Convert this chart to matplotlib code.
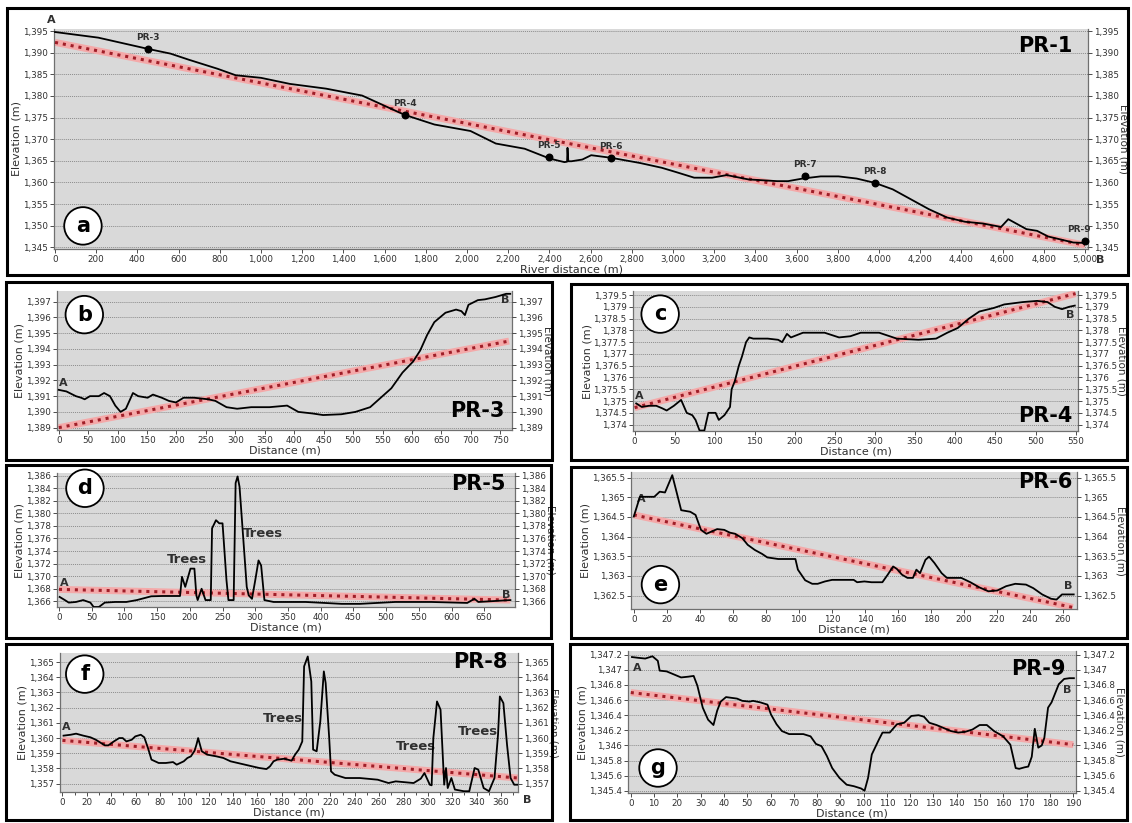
import matplotlib.pyplot as plt
from matplotlib.patches import Rectangle
from matplotlib.ticker import FuncFormatter, MultipleLocator

W, H = 1132, 823

# ---- panel a : PR-1 river long profile ----
pr1_x = [0, 210, 451, 561, 649, 789, 877, 1000, 1140, 1316, 1491, 1666, 1700, 1842,
         2017, 2140, 2280, 2403, 2473, 2486, 2488, 2492, 2507, 2560, 2603, 2700, 2840,
         2945, 3015, 3103, 3190, 3261, 3366, 3506, 3559, 3629, 3717, 3804, 3892, 3980,
         4067, 4155, 4243, 4330, 4418, 4505, 4593, 4628, 4716, 4768, 4821, 4944, 5000]
pr1_y = [1394.8, 1393.5, 1390.9, 1389.8, 1388.4, 1386.3, 1384.8, 1384.2, 1382.8, 1381.7,
         1380.1, 1376.3, 1375.6, 1373.4, 1371.9, 1369.0, 1367.8, 1365.5, 1364.7, 1364.8,
         1368.0, 1364.9, 1364.9, 1365.3, 1366.3, 1365.7, 1364.5, 1363.4, 1362.4, 1361.1,
         1361.1, 1361.7, 1360.7, 1360.3, 1360.3, 1360.9, 1361.4, 1361.4, 1360.9, 1359.9,
         1358.4, 1356.1, 1353.8, 1351.9, 1350.9, 1350.5, 1349.7, 1351.5, 1349.2, 1348.8,
         1347.5, 1346.1, 1346.0]
pr1_trend_x = [0, 5000]
pr1_trend_y = [1392.4, 1345.5]
pr_sites = ["PR-3", "PR-4", "PR-5", "PR-6", "PR-7", "PR-8", "PR-9"]
pr_sites_x = [450, 1700, 2400, 2700, 3640, 3980, 5000]
pr_sites_y = [1390.9, 1375.6, 1365.9, 1365.7, 1361.5, 1359.9, 1346.4]

# ---- panel b : PR-3 ----
pr3_x = [0, 13, 29, 38, 44, 53, 68, 77, 87, 96, 105, 114, 126, 135, 151, 160, 175, 187,
         199, 212, 230, 254, 266, 285, 303, 327, 358, 388, 407, 431, 449, 480, 504, 529,
         547, 565, 584, 602, 614, 626, 638, 657, 675, 684, 690, 696, 712, 724, 742, 760, 767]
pr3_y = [1391.4, 1391.3, 1391.0, 1390.9, 1390.8, 1391.0, 1391.0, 1391.2, 1391.0, 1390.4,
         1390.0, 1390.2, 1391.2, 1391.0, 1390.9, 1391.1, 1390.9, 1390.7, 1390.6, 1390.9,
         1390.9, 1390.8, 1390.7, 1390.3, 1390.2, 1390.3, 1390.3, 1390.4, 1390.0, 1389.9,
         1389.8, 1389.85, 1390.0, 1390.3, 1390.9, 1391.5, 1392.5, 1393.2, 1393.9, 1394.9,
         1395.7, 1396.3, 1396.5, 1396.4, 1396.15, 1396.8, 1397.1, 1397.15, 1397.3, 1397.5, 1397.5]
pr3_trend_x = [0, 765]
pr3_trend_y = [1389.0, 1394.5]

# ---- panel c : PR-4 ----
pr4_x = [2, 9, 18, 27, 34, 40, 49, 58, 65, 72, 76, 81, 87, 92, 101, 105, 112, 119, 121,
         125, 130, 134, 139, 143, 148, 166, 179, 184, 190, 195, 210, 237, 255, 269, 282,
         305, 327, 354, 376, 390, 403, 417, 430, 448, 461, 484, 502, 515, 524, 533, 542, 549]
pr4_y = [1374.9, 1374.75, 1374.8, 1374.8, 1374.7, 1374.6, 1374.8, 1375.05, 1374.5, 1374.4,
         1374.2, 1373.75, 1373.75, 1374.5, 1374.5, 1374.2, 1374.4, 1374.75, 1375.5, 1375.85,
         1376.5, 1376.9, 1377.5, 1377.7, 1377.65, 1377.65, 1377.6, 1377.5, 1377.85, 1377.7,
         1377.9, 1377.9, 1377.7, 1377.75, 1377.9, 1377.9, 1377.65, 1377.6, 1377.65, 1377.9,
         1378.1, 1378.5, 1378.8, 1378.95, 1379.1, 1379.2, 1379.25, 1379.2, 1379.0, 1378.9,
         1379.0, 1379.05]
pr4_trend_x = [0, 550]
pr4_trend_y = [1374.72, 1379.56]

# ---- panel d : PR-5 ----
pr5_x = [1, 9, 15, 26, 37, 48, 53, 61, 70, 86, 103, 119, 130, 141, 158, 185, 188, 193,
         201, 207, 210, 212, 218, 224, 232, 234, 240, 245, 250, 256, 259, 267, 270, 273,
         276, 287, 290, 295, 300, 305, 309, 314, 328, 377, 405, 432, 460, 487, 514, 569,
         624, 635, 641, 690]
pr5_y = [1366.7, 1366.2, 1365.8, 1365.9, 1366.2, 1365.8, 1365.1, 1365.1, 1365.8, 1365.9,
         1365.9, 1366.2, 1366.5, 1366.8, 1366.85, 1366.85, 1369.9, 1368.3, 1371.2, 1371.2,
         1366.95, 1366.2, 1368.0, 1366.2, 1366.2, 1377.6, 1378.9, 1378.4, 1378.4, 1369.4,
         1366.2, 1366.2, 1384.8, 1385.85, 1384.2, 1368.3, 1366.95, 1366.4, 1369.35, 1372.5,
         1371.7, 1366.2, 1365.9, 1365.9, 1365.75, 1365.6, 1365.6, 1365.75, 1365.9, 1365.9,
         1365.75, 1366.4, 1365.9, 1366.2]
pr5_trend_x = [0, 690]
pr5_trend_y = [1367.9, 1366.2]

# ---- panel e : PR-6 ----
pr6_x = [0, 3.7, 12.4, 15.7, 18.9, 23.3, 28.7, 34.2, 37.4, 40.7, 44.0, 47.2, 50.5, 54.8,
         58.1, 61.4, 65.7, 69.0, 73.3, 77.7, 80.9, 84.2, 87.5, 97.9, 99.4, 103.8, 108.1,
         111.4, 115.8, 120.1, 124.5, 133.2, 135.3, 139.7, 144.0, 150.6, 153.8, 157.1, 159.3,
         162.5, 165.8, 169.1, 171.2, 173.4, 176.7, 178.9, 182.1, 186.5, 189.7, 198.4, 203.9,
         209.3, 214.8, 220.2, 225.6, 231.1, 237.6, 242.0, 247.4, 252.8, 256.1, 259.4, 266.5]
pr6_y = [1364.51, 1365.01, 1365.01, 1365.14, 1365.12, 1365.56, 1364.67, 1364.63, 1364.55,
         1364.17, 1364.07, 1364.13, 1364.19, 1364.17, 1364.10, 1364.07, 1363.96, 1363.79,
         1363.66, 1363.56, 1363.47, 1363.45, 1363.43, 1363.43, 1363.16, 1362.89, 1362.80,
         1362.80, 1362.86, 1362.90, 1362.90, 1362.90, 1362.84, 1362.86, 1362.84, 1362.84,
         1363.03, 1363.24, 1363.18, 1363.03, 1362.95, 1362.95, 1363.16, 1363.07, 1363.41,
         1363.49, 1363.33, 1363.07, 1362.95, 1362.95, 1362.84, 1362.71, 1362.61, 1362.63,
         1362.74, 1362.80, 1362.78, 1362.69, 1362.53, 1362.42, 1362.40, 1362.53, 1362.53]
pr6_trend_x = [0, 266]
pr6_trend_y = [1364.55, 1362.2]

# ---- panel f : PR-8 ----
pr8_x = [0.9, 6.8, 11.2, 17.1, 23.0, 27.4, 31.8, 34.8, 37.7, 42.2, 46.6, 49.5, 52.5, 56.9,
         59.8, 64.3, 67.2, 70.2, 73.1, 79.0, 84.9, 90.8, 93.8, 96.7, 99.6, 102.6, 105.5,
         108.5, 110.0, 111.4, 114.4, 118.8, 126.2, 132.1, 138.0, 143.9, 149.8, 155.7, 161.6,
         167.5, 170.4, 173.3, 176.3, 182.2, 188.1, 191.0, 194.0, 196.9, 198.4, 201.4, 204.3,
         205.8, 208.7, 211.7, 214.6, 216.1, 219.0, 220.5, 223.5, 232.3, 244.1, 258.8, 267.7,
         273.6, 288.3, 294.2, 297.2, 301.6, 303.1, 304.5, 307.5, 310.4, 313.4, 314.9, 316.3,
         319.3, 322.2, 329.6, 334.0, 338.4, 341.4, 345.8, 350.2, 354.7, 357.6, 359.1, 362.0,
         365.0, 367.9, 370.9, 373.5]
pr8_y = [1360.16, 1360.22, 1360.29, 1360.16, 1360.05, 1359.89, 1359.67, 1359.52, 1359.52,
         1359.78, 1360.0, 1360.0, 1359.78, 1359.89, 1360.11, 1360.22, 1360.05, 1359.35,
         1358.58, 1358.36, 1358.36, 1358.42, 1358.25, 1358.36, 1358.47, 1358.69, 1358.80,
         1359.17, 1359.56, 1360.0, 1359.13, 1358.91, 1358.80, 1358.69, 1358.47, 1358.36,
         1358.25, 1358.14, 1358.03, 1357.96, 1358.14, 1358.47, 1358.58, 1358.64, 1358.51,
         1358.91, 1359.24, 1359.78, 1364.72, 1365.37, 1363.73, 1359.24, 1359.13, 1361.10,
         1364.39, 1363.62, 1360.0, 1357.81, 1357.59, 1357.37, 1357.37, 1357.26, 1357.04,
         1357.15, 1357.04, 1357.33, 1357.70, 1356.93, 1356.89, 1360.0, 1362.41, 1361.87,
         1356.93, 1358.03, 1356.71, 1357.37, 1356.61, 1356.50, 1356.50, 1358.03, 1357.92,
         1356.71, 1356.50, 1357.37, 1360.22, 1362.74, 1362.30, 1359.56, 1357.37, 1356.93, 1356.93]
pr8_trend_x = [0, 374]
pr8_trend_y = [1359.85, 1357.37]

# ---- panel g : PR-9 ----
pr9_x = [0.5, 3.1, 6.2, 9.3, 11.6, 12.4, 15.4, 18.5, 21.6, 24.7, 27.0, 28.6, 30.9, 33.2,
         35.5, 37.1, 38.6, 40.9, 43.2, 45.6, 47.9, 51.0, 52.5, 55.6, 58.7, 60.2, 62.6, 64.9,
         68.0, 71.1, 74.1, 77.2, 79.5, 81.9, 84.2, 86.5, 89.6, 92.7, 95.8, 98.9, 100.4, 101.9,
         103.5, 106.6, 108.1, 111.2, 114.3, 117.4, 120.5, 123.6, 125.9, 128.2, 131.3, 134.4,
         137.5, 140.6, 143.6, 146.7, 149.8, 152.9, 156.0, 159.9, 163.0, 165.3, 166.8, 169.1,
         170.7, 172.2, 173.5, 175.0, 176.5, 177.6, 179.2, 180.7, 183.8, 186.1, 188.4, 190.3]
pr9_y = [1347.17, 1347.16, 1347.15, 1347.18, 1347.12, 1346.99, 1346.98, 1346.94, 1346.90,
         1346.91, 1346.92, 1346.79, 1346.50, 1346.34, 1346.27, 1346.46, 1346.58, 1346.64,
         1346.63, 1346.62, 1346.59, 1346.58, 1346.59, 1346.57, 1346.54, 1346.41, 1346.28,
         1346.19, 1346.15, 1346.15, 1346.15, 1346.12, 1346.02, 1345.99, 1345.86, 1345.70,
         1345.57, 1345.48, 1345.46, 1345.43, 1345.40, 1345.57, 1345.88, 1346.08, 1346.17,
         1346.17, 1346.28, 1346.30, 1346.39, 1346.40, 1346.38, 1346.30, 1346.27, 1346.23,
         1346.19, 1346.17, 1346.18, 1346.21, 1346.27, 1346.27, 1346.19, 1346.12, 1346.01,
         1345.70, 1345.69, 1345.71, 1345.72, 1345.85, 1346.22, 1345.97, 1346.00, 1346.10,
         1346.50, 1346.57, 1346.81, 1346.88, 1346.89, 1346.89]
pr9_trend_x = [0, 190]
pr9_trend_y = [1346.70, 1346.01]

BG = "#d9d9d9"
TXT = "#303030"


def elev_fmt(v, pos):
    s = f"{v:,.1f}"
    if s.endswith(".0"):
        s = s[:-2]
    return s


def px_axes(fig, l, t, r, b):
    return fig.add_axes([l / W, 1 - b / H, (r - l) / W, (b - t) / H])


def frame(fig, l, t, r, b):
    fig.add_artist(Rectangle((l / W, 1 - b / H), (r - l) / W, (b - t) / H,
                             transform=fig.transFigure, fill=False, ec="black", lw=2.2))


def panel(fig, box, xlim, ylim, xstep, ystep, x, y, tx, ty, letter, letter_pos,
          name, name_pos, name_va="center", xlabel="Distance (m)", xfmt=None):
    ax = px_axes(fig, *box)
    ax.set_facecolor(BG)
    ax.plot(tx, ty, color="#f4a9a9", lw=5, solid_capstyle="butt", zorder=2)
    ax.plot(tx, ty, color="#a01e28", lw=2.2, ls=(0, (1, 1.6)), zorder=3)
    ax.plot(x, y, color="black", lw=1.3, zorder=4)
    ax.set_xlim(*xlim)
    ax.set_ylim(*ylim)
    ax.xaxis.set_major_locator(MultipleLocator(xstep))
    ax.yaxis.set_major_locator(MultipleLocator(ystep))
    ax.yaxis.set_major_formatter(FuncFormatter(elev_fmt))
    if xfmt:
        ax.xaxis.set_major_formatter(FuncFormatter(xfmt))
    ax.grid(axis="y", color="#8c8c8c", ls=(0, (1, 1)), lw=0.7)
    ax.set_axisbelow(True)
    for s in ["left", "right", "bottom"]:
        ax.spines[s].set_color("#707070")
        ax.spines[s].set_linewidth(0.9)
    ax.spines["top"].set_visible(False)
    ax.tick_params(labelsize=6.3, colors=TXT, length=3, width=0.6, pad=1.5)
    ax.set_xlabel(xlabel, fontsize=8, color=TXT, labelpad=0)
    ax.set_ylabel("Elevation (m)", fontsize=8, color=TXT, labelpad=1)

    ax2 = ax.twinx()
    ax2.set_ylim(*ylim)
    ax2.yaxis.set_major_locator(MultipleLocator(ystep))
    ax2.yaxis.set_major_formatter(FuncFormatter(elev_fmt))
    ax2.tick_params(labelsize=6.3, colors=TXT, length=3, width=0.6, pad=1)
    for s in ax2.spines.values():
        s.set_visible(False)
    ax2.set_ylabel("Elevation (m)", fontsize=7.5, color=TXT, rotation=270, labelpad=7)

    ax.text(letter_pos[0], letter_pos[1], letter, transform=ax.transAxes, fontsize=15,
            fontweight="bold", ha="center", va="center", zorder=6,
            bbox=dict(boxstyle="circle,pad=0.42", fc="white", ec="black", lw=1.3))
    ax.text(name_pos[0], name_pos[1], name, transform=ax.transAxes, fontsize=15,
            fontweight="bold", ha="right", va=name_va, zorder=6)
    return ax


fig = plt.figure(figsize=(W / 100, H / 100), dpi=100)
fig.patch.set_facecolor("white")

frames = [(7, 8, 1128, 275), (6, 282, 552, 460), (571, 284, 1127, 460),
          (6, 465, 551, 638), (571, 467, 1127, 638), (6, 644, 552, 820), (570, 644, 1127, 820)]
for f in frames:
    frame(fig, *f)

# panel a
ax = panel(fig, (54, 29, 1088, 249), (-5, 5015), (1344.6, 1395.5), 200, 5, pr1_x, pr1_y,
           pr1_trend_x, pr1_trend_y, "a", (0.028, 0.105), "PR-1", (0.985, 0.925),
           xlabel="River distance (m)", xfmt=lambda v, p: f"{v:,.0f}")
ax.scatter(pr_sites_x, pr_sites_y, s=22, color="black", zorder=5, clip_on=False)
for n, sx, sy in zip(pr_sites, pr_sites_x, pr_sites_y):
    ax.annotate(n, (sx, sy), xytext=(-4 if n == "PR-9" else 0, 5), textcoords="offset points",
                ha="center", va="bottom", fontsize=6.5, color=TXT, fontweight="bold")
ax.text(-0.003, 1.02, "A", transform=ax.transAxes, fontsize=8, fontweight="bold",
        color=TXT, ha="center", va="bottom")
ax.text(1.008, -0.05, "B", transform=ax.transAxes, fontsize=8, fontweight="bold",
        color=TXT, ha="left", va="center")

# panel b
ax = panel(fig, (57, 291, 512, 430), (-3, 770), (1388.85, 1397.68), 50, 1, pr3_x, pr3_y,
           pr3_trend_x, pr3_trend_y, "b", (0.06, 0.83), "PR-3", (0.983, 0.135))
ax.text(0, 1391.85, "A", fontsize=8, fontweight="bold", color=TXT, ha="left", va="center")
ax.text(765, 1397.1, "B", fontsize=8, fontweight="bold", color=TXT, ha="right", va="center")

# panel c
ax = panel(fig, (633, 291, 1078, 431), (-2, 553), (1373.73, 1379.67), 50, 0.5, pr4_x, pr4_y,
           pr4_trend_x, pr4_trend_y, "c", (0.061, 0.835), "PR-4", (0.987, 0.105))
ax.text(1, 1375.2, "A", fontsize=8, fontweight="bold", color=TXT, ha="left", va="center")
ax.text(549, 1378.65, "B", fontsize=8, fontweight="bold", color=TXT, ha="right", va="center")

# panel d
ax = panel(fig, (57, 473, 515, 607), (-3, 697), (1365.1, 1386.4), 50, 2, pr5_x, pr5_y,
           pr5_trend_x, pr5_trend_y, "d", (0.061, 0.886), "PR-5", (0.98, 0.915))
ax.text(1, 1368.9, "A", fontsize=8, fontweight="bold", color=TXT, ha="left", va="center")
ax.text(690, 1367.0, "B", fontsize=8, fontweight="bold", color=TXT, ha="right", va="center")
ax.text(196, 1372.7, "Trees", fontsize=9.5, fontweight="bold", color=TXT, ha="center", va="center")
ax.text(311, 1376.8, "Trees", fontsize=9.5, fontweight="bold", color=TXT, ha="center", va="center")

# panel e
ax = panel(fig, (631, 472, 1077, 609), (-1.7, 268.5), (1362.16, 1365.64), 20, 0.5, pr6_x, pr6_y,
           pr6_trend_x, pr6_trend_y, "e", (0.066, 0.178), "PR-6", (0.99, 0.925))
ax.text(2, 1364.95, "A", fontsize=8, fontweight="bold", color=TXT, ha="left", va="center")
ax.text(266, 1362.75, "B", fontsize=8, fontweight="bold", color=TXT, ha="right", va="center")

# panel f
ax = panel(fig, (60, 653, 518, 792), (-2, 374), (1356.45, 1365.6), 20, 1, pr8_x, pr8_y,
           pr8_trend_x, pr8_trend_y, "f", (0.054, 0.848), "PR-8", (0.977, 0.935))
ax.xaxis.set_minor_locator(MultipleLocator(10))
ax.tick_params(which="minor", length=2, width=0.6, colors=TXT)
ax.text(0, 1360.75, "A", fontsize=8, fontweight="bold", color=TXT, ha="left", va="center")
ax.text(1.012, -0.06, "B", transform=ax.transAxes, fontsize=8, fontweight="bold",
        color=TXT, ha="left", va="center")
ax.text(181, 1361.3, "Trees", fontsize=9.5, fontweight="bold", color=TXT, ha="center", va="center")
ax.text(290, 1359.45, "Trees", fontsize=9.5, fontweight="bold", color=TXT, ha="center", va="center")
ax.text(341, 1360.4, "Trees", fontsize=9.5, fontweight="bold", color=TXT, ha="center", va="center")

# panel g
ax = panel(fig, (628, 651, 1076, 793), (-1.2, 191.2), (1345.37, 1347.25), 10, 0.2, pr9_x, pr9_y,
           pr9_trend_x, pr9_trend_y, "g", (0.067, 0.176), "PR-9", (0.977, 0.87))
ax.text(1, 1347.02, "A", fontsize=8, fontweight="bold", color=TXT, ha="left", va="center")
ax.text(189, 1346.73, "B", fontsize=8, fontweight="bold", color=TXT, ha="right", va="center")

fig.savefig("out.png", dpi=100, facecolor="white")
